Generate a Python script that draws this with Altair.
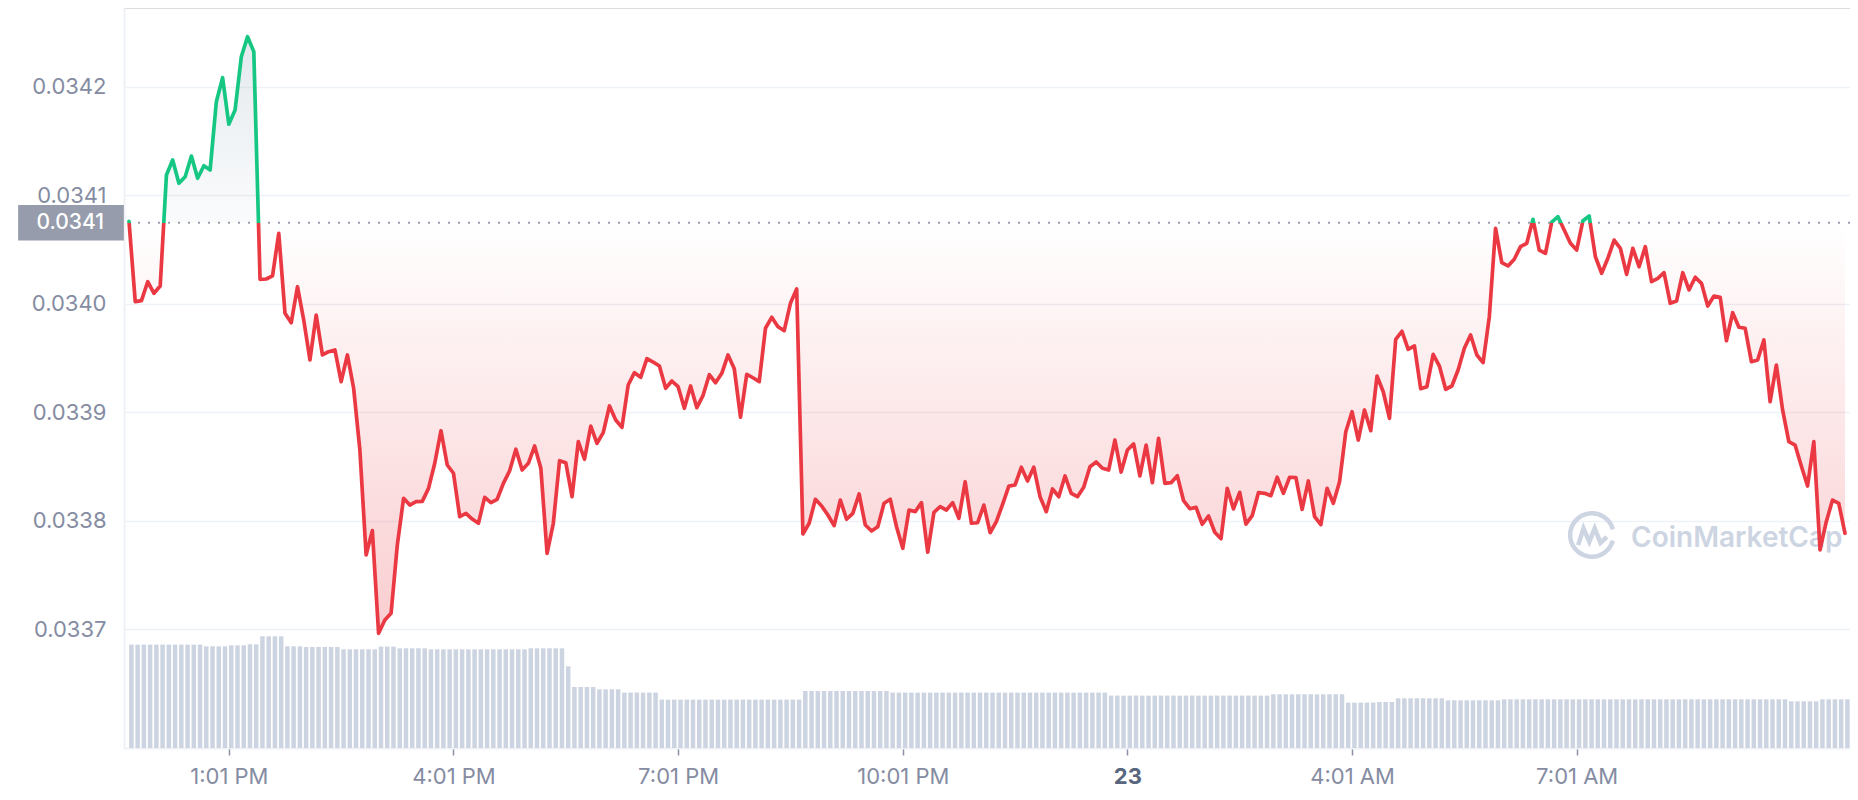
import altair as alt
import pandas as pd

# ---------------- data ----------------
step_minutes = 5            # one point every 5 minutes, first point at 11:41 AM
base_price = 0.0340747      # opening price (dotted reference line)

price = [
    0.0340760, 0.0340019, 0.0340028, 0.0340203, 0.0340096, 0.0340163, 0.0341186, 0.0341325, 0.0341110, 0.0341171,
    0.0341361, 0.0341156, 0.0341272, 0.0341232, 0.0341862, 0.0342083, 0.0341654, 0.0341785, 0.0342276, 0.0342461,
    0.0342323, 0.0340225, 0.0340228, 0.0340256, 0.0340649, 0.0339912, 0.0339825, 0.0340157, 0.0339850, 0.0339482,
    0.0339896, 0.0339528, 0.0339558, 0.0339574, 0.0339282, 0.0339528, 0.0339221, 0.0338652, 0.0337685, 0.0337909,
    0.0336963, 0.0337086, 0.0337147, 0.0337777, 0.0338207, 0.0338145, 0.0338176, 0.0338179, 0.0338299, 0.0338530,
    0.0338830, 0.0338514, 0.0338438, 0.0338038, 0.0338069, 0.0338016, 0.0337977, 0.0338216, 0.0338167, 0.0338198,
    0.0338345, 0.0338461, 0.0338659, 0.0338468, 0.0338530, 0.0338689, 0.0338484, 0.0337700, 0.0337977, 0.0338554,
    0.0338535, 0.0338222, 0.0338729, 0.0338567, 0.0338873, 0.0338714, 0.0338812, 0.0339058, 0.0338929, 0.0338861,
    0.0339251, 0.0339365, 0.0339322, 0.0339494, 0.0339463, 0.0339426, 0.0339221, 0.0339288, 0.0339236, 0.0339036,
    0.0339242, 0.0339042, 0.0339156, 0.0339346, 0.0339272, 0.0339359, 0.0339528, 0.0339401, 0.0338954, 0.0339350,
    0.0339318, 0.0339282, 0.0339774, 0.0339875, 0.0339788, 0.0339752, 0.0340004, 0.0340136, 0.0337878, 0.0337977,
    0.0338198, 0.0338136, 0.0338053, 0.0337955, 0.0338191, 0.0338014, 0.0338069, 0.0338247, 0.0337961, 0.0337906,
    0.0337945, 0.0338161, 0.0338198, 0.0337945, 0.0337746, 0.0338099, 0.0338084, 0.0338167, 0.0337710, 0.0338078,
    0.0338130, 0.0338099, 0.0338167, 0.0338023, 0.0338360, 0.0337977, 0.0337982, 0.0338145, 0.0337890, 0.0337992,
    0.0338152, 0.0338320, 0.0338330, 0.0338493, 0.0338367, 0.0338493, 0.0338222, 0.0338084, 0.0338293, 0.0338222,
    0.0338413, 0.0338253, 0.0338222, 0.0338309, 0.0338498, 0.0338542, 0.0338484, 0.0338468, 0.0338744, 0.0338449,
    0.0338652, 0.0338708, 0.0338413, 0.0338698, 0.0338351, 0.0338760, 0.0338345, 0.0338351, 0.0338415, 0.0338185,
    0.0338111, 0.0338124, 0.0337968, 0.0338044, 0.0337894, 0.0337835, 0.0338299, 0.0338109, 0.0338262, 0.0337970,
    0.0338047, 0.0338259, 0.0338253, 0.0338231, 0.0338401, 0.0338253, 0.0338401, 0.0338398, 0.0338106, 0.0338367,
    0.0338038, 0.0337964, 0.0338299, 0.0338161, 0.0338360, 0.0338821, 0.0339005, 0.0338744, 0.0339021, 0.0338830,
    0.0339334, 0.0339189, 0.0338944, 0.0339672, 0.0339746, 0.0339580, 0.0339611, 0.0339217, 0.0339236, 0.0339534,
    0.0339426, 0.0339212, 0.0339242, 0.0339389, 0.0339589, 0.0339712, 0.0339528, 0.0339457, 0.0339881, 0.0340695,
    0.0340378, 0.0340348, 0.0340410, 0.0340526, 0.0340557, 0.0340778, 0.0340495, 0.0340465, 0.0340752, 0.0340802,
    0.0340680, 0.0340557, 0.0340495, 0.0340765, 0.0340809, 0.0340433, 0.0340281, 0.0340419, 0.0340587, 0.0340511,
    0.0340271, 0.0340511, 0.0340341, 0.0340526, 0.0340203, 0.0340234, 0.0340286, 0.0340004, 0.0340025, 0.0340286,
    0.0340127, 0.0340244, 0.0340188, 0.0339979, 0.0340071, 0.0340059, 0.0339659, 0.0339917, 0.0339783, 0.0339774,
    0.0339466, 0.0339482, 0.0339666, 0.0339097, 0.0339435, 0.0339021, 0.0338729, 0.0338698, 0.0338505, 0.0338320,
    0.0338729, 0.0337731, 0.0337992, 0.0338191, 0.0338161, 0.0337885,
]

# relative traded volume per 5-minute bar (no scale shown in the reference)
volume = [
    1.034, 1.034, 1.034, 1.034, 1.034, 1.034, 1.034, 1.034, 1.034, 1.034, 1.034, 1.034,
    1.017, 1.017, 1.017, 1.017, 1.027, 1.027, 1.027, 1.037, 1.037,
    1.117, 1.117, 1.117, 1.117, 1.017, 1.017, 1.017,
    1.010, 1.010, 1.010, 1.010, 1.010, 1.010,
    0.987, 0.987, 0.987, 0.987, 0.987, 0.987, 1.014, 1.014, 1.014,
    0.997, 0.997, 0.997, 0.997, 0.997,
    0.987, 0.987, 0.987, 0.987, 0.987, 0.987, 0.987, 0.987, 0.987, 0.987, 0.987, 0.987, 0.987, 0.987, 0.987, 0.987,
    0.997, 0.997, 0.997, 0.997, 0.997, 0.997, 0.817,
    0.610, 0.610, 0.610, 0.610, 0.587, 0.587, 0.587, 0.587,
    0.554, 0.554, 0.554, 0.554, 0.554, 0.554,
    0.484, 0.484, 0.484, 0.484, 0.484, 0.484, 0.484, 0.484, 0.484, 0.484, 0.484, 0.484,
    0.484, 0.484, 0.484, 0.484, 0.484, 0.484, 0.484, 0.484, 0.484, 0.484, 0.484,
    0.570, 0.570, 0.570, 0.570, 0.570, 0.570, 0.570, 0.570, 0.570, 0.570, 0.570, 0.570, 0.570, 0.570,
    0.554, 0.554, 0.554, 0.554, 0.554, 0.554, 0.554, 0.554, 0.554, 0.554, 0.554, 0.554,
    0.554, 0.554, 0.554, 0.554, 0.554, 0.554, 0.554, 0.554, 0.554, 0.554, 0.554, 0.554,
    0.554, 0.554, 0.554, 0.554, 0.554, 0.554, 0.554, 0.554, 0.554, 0.554, 0.554,
    0.524, 0.524, 0.524, 0.524, 0.524, 0.524, 0.524, 0.524, 0.524, 0.524, 0.524, 0.524, 0.524,
    0.524, 0.524, 0.524, 0.524, 0.524, 0.524, 0.524, 0.524, 0.524, 0.524, 0.524, 0.524, 0.524,
    0.537, 0.537, 0.537, 0.537, 0.537, 0.537, 0.537, 0.537, 0.537, 0.537, 0.537, 0.537,
    0.454, 0.454, 0.454, 0.454, 0.454, 0.460, 0.460, 0.460,
    0.497, 0.497, 0.497, 0.497, 0.497, 0.497, 0.497, 0.497,
    0.477, 0.477, 0.477, 0.477, 0.477, 0.477, 0.477, 0.477, 0.477,
    0.487, 0.487, 0.487, 0.487, 0.487, 0.487, 0.487, 0.487, 0.487, 0.487, 0.487, 0.487,
    0.487, 0.487, 0.487, 0.487, 0.487, 0.487, 0.487, 0.487, 0.487, 0.487, 0.487, 0.487,
    0.487, 0.487, 0.487, 0.487, 0.487, 0.487, 0.487, 0.487, 0.487, 0.487, 0.487, 0.487,
    0.487, 0.487, 0.487, 0.487, 0.487, 0.487, 0.487, 0.487, 0.487, 0.487,
    0.467, 0.467, 0.467, 0.467, 0.467, 0.487, 0.487, 0.487, 0.487, 0.487,
]

y_ticks = [0.0337, 0.0338, 0.0339, 0.0340, 0.0341, 0.0342]
x_tick_minutes = [80, 260, 440, 620, 800, 980, 1160]
x_tick_labels = ["1:01 PM", "4:01 PM", "7:01 PM", "10:01 PM", "23", "4:01 AM", "7:01 AM"]
date_tick_minute = 800          # the day-change tick ("23") is emphasised
watermark_text = "CoinMarketCap"

# ---------------- styling ----------------
GREEN = "#16c784"
RED = "#ea3943"
AXIS_GRAY = "#858ca2"
GRID = "#eef1f5"
BAR = "#cdd4e1"
BOX_GRAY = "#969cab"
WM = "#cdd4e2"

PRICE_DOMAIN = [0.03359062, 0.03427252]
VOL_DOMAIN = [0, 7.40]
X_DOMAIN = [0, 1375]

df = pd.DataFrame({
    "minute": [i * step_minutes for i in range(len(price))],
    "price": price,
    "volume": volume,
})
one = pd.DataFrame({"k": [0]})

vmax, vmin = max(price), min(price)
t = (vmax - base_price) / (vmax - vmin)

line_grad = alt.LinearGradient(
    gradient="linear", x1=0, x2=0, y1=0, y2=1,
    stops=[alt.GradientStop(color=GREEN, offset=0), alt.GradientStop(color=GREEN, offset=t),
           alt.GradientStop(color=RED, offset=t), alt.GradientStop(color=RED, offset=1)])
area_grad = alt.LinearGradient(
    gradient="linear", x1=0, x2=0, y1=0, y2=1,
    stops=[alt.GradientStop(color="rgba(170,188,202,0.32)", offset=0),
           alt.GradientStop(color="rgba(170,188,202,0.06)", offset=t),
           alt.GradientStop(color="rgba(234,57,67,0.0)", offset=t),
           alt.GradientStop(color="rgba(234,57,67,0.25)", offset=1)])

label_expr = " : ".join(f"datum.value == {m} ? '{l}'" for m, l in zip(x_tick_minutes, x_tick_labels)) + " : ''"

x_axis = alt.Axis(
    values=x_tick_minutes, labelExpr=label_expr, title=None, grid=False,
    domain=True, domainColor=GRID, domainWidth=2,
    ticks=True, tickColor="#8a91a4", tickSize=7, tickWidth=1.5,
    labelFontSize=22, labelPadding=11, labelFlush=False,
    labelColor={"condition": {"test": f"datum.value == {date_tick_minute}", "value": "#58667e"}, "value": AXIS_GRAY},
    labelFontWeight={"condition": {"test": f"datum.value == {date_tick_minute}", "value": 700}, "value": 400},
)
y_axis = alt.Axis(
    values=y_ticks, format=".4f", title=None, grid=True, gridColor=GRID, gridWidth=1.5,
    ticks=False, tickSize=0, domain=True, domainColor=GRID, domainWidth=2,
    labelFontSize=22, labelColor=AXIS_GRAY, labelPadding=18,
)
x_scale = alt.Scale(domain=X_DOMAIN, nice=False, zero=False)
y_scale = alt.Scale(domain=PRICE_DOMAIN, nice=False, zero=False)

x_enc = alt.X("minute:Q", scale=x_scale, axis=x_axis, title=None)
y_price = alt.Y("price:Q", scale=y_scale, axis=y_axis, title=None)
y_base = alt.YDatum(base_price, scale=y_scale, axis=y_axis, type="quantitative")

bars = alt.Chart(df).mark_bar(size=4.5, xOffset=2.4, color=BAR).encode(
    x=x_enc,
    y=alt.Y("volume:Q", scale=alt.Scale(domain=VOL_DOMAIN, nice=False), axis=None),
)

area = alt.Chart(df).mark_area(fill=area_grad, interpolate="linear").encode(
    x=x_enc, y=y_price, y2=alt.Y2Datum(base_price),
)

rule = alt.Chart(one).mark_rule(strokeDash=[2, 8], strokeWidth=2, color="#9aa0b0").encode(y=y_base)

logo_path = ("M0.93,0.25 A0.97,0.97 0 1 1 0.93,-0.25 "
             "M-0.62,0.45 L-0.38,-0.3 L-0.12,0.3 L0.12,-0.3 L0.38,0.35 L0.66,0.08")
logo = alt.Chart(one).mark_point(shape=logo_path, size=2000, filled=False, stroke=WM,
                                 strokeWidth=4.5, opacity=1).encode(
    x=alt.value(1468), y=alt.value(527))
wm = alt.Chart(one).mark_text(text=watermark_text, align="left", baseline="alphabetic",
                              fontSize=28, fontWeight=600, color=WM).encode(
    x=alt.value(1507), y=alt.value(539))

line = alt.Chart(df).mark_line(stroke=line_grad, strokeWidth=3.7, strokeJoin="round",
                               strokeCap="round", interpolate="linear").encode(
    x=x_enc, y=y_price,
)

box_path = "M-1,-0.336 L1,-0.336 L1,0.336 L-1,0.336 Z"
box = alt.Chart(one).mark_point(shape=box_path, size=11172, filled=True, color=BOX_GRAY,
                                opacity=1, strokeWidth=0).encode(x=alt.value(-53), y=y_base)
box_text = alt.Chart(one).mark_text(text=f"{base_price:.4f}", align="right", baseline="middle",
                                    fontSize=21, fontWeight=500, color="white").encode(
    x=alt.value(-20), y=y_base)

price_layers = alt.layer(area, rule, logo, wm, line, box, box_text)

chart = alt.layer(bars, price_layers).resolve_scale(y="independent").properties(
    width=1726, height=740,
    padding={"left": 116, "top": 0, "right": 0, "bottom": 40},
    autosize=alt.AutoSizeParams(type="none"),
    background="white",
).configure_view(stroke=None).configure(font="Inter")

chart.save("out.html", embed_options={"renderer": "svg", "actions": False})
